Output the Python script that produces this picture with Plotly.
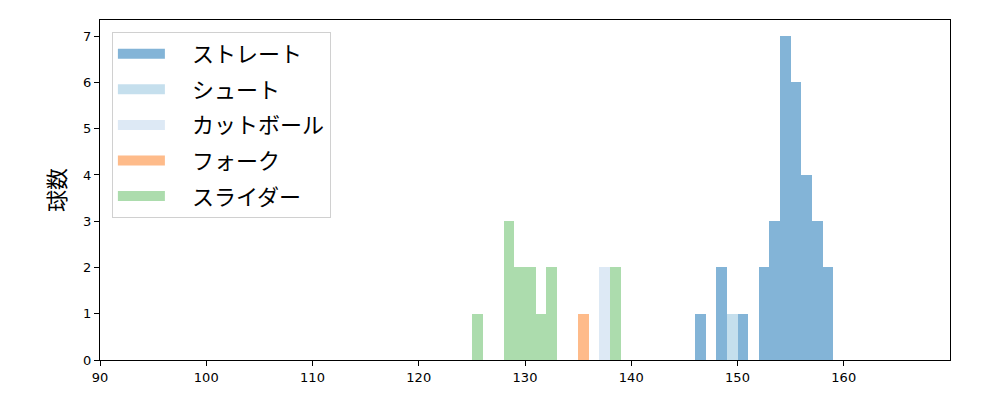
import plotly.graph_objects as go

# bin left edges (km/h) and counts per pitch type, bin width 1
straight_bins = [146, 148, 150, 152, 153, 154, 155, 156, 157, 158]
straight_counts = [1, 2, 1, 2, 3, 7, 6, 4, 3, 2]
shoot_bins = [149]
shoot_counts = [1]
cut_bins = [137]
cut_counts = [2]
fork_bins = [135]
fork_counts = [1]
slider_bins = [125, 128, 129, 130, 131, 132, 138]
slider_counts = [1, 3, 2, 2, 1, 2, 2]

names = ["ストレート", "シュート", "カットボール", "フォーク", "スライダー"]
colors = ["#3182bd", "#9ecae1", "#c6dbef", "#fd8d3c", "#74c476"]
series = [(straight_bins, straight_counts), (shoot_bins, shoot_counts),
          (cut_bins, cut_counts), (fork_bins, fork_counts),
          (slider_bins, slider_counts)]

x_ticks = [90, 100, 110, 120, 130, 140, 150, 160]
y_ticks = [0, 1, 2, 3, 4, 5, 6, 7]

fig = go.Figure()
for name, color, (bins, counts) in zip(names, colors, series):
    fig.add_trace(go.Bar(
        x=[b + 0.5 for b in bins], y=counts, width=1,
        marker=dict(color=color, opacity=0.6, line=dict(width=0)),
        name=name, showlegend=False, legendgroup=name,
    ))
    # legend proxy: thick line shows as a wide patch
    fig.add_trace(go.Scatter(
        x=[None], y=[None], mode="lines", name="\u2002\u2002" + name,
        legendgroup=name,
        line=dict(color=color, width=16), opacity=0.6, showlegend=True,
    ))

font = "DejaVu Sans, Noto Sans CJK JP, sans-serif"
fig.update_layout(
    width=1000, height=400,
    margin=dict(l=92, r=58, t=12, b=48),
    plot_bgcolor="white", paper_bgcolor="white",
    barmode="overlay", bargap=0,
    font=dict(family=font, color="black"),
    legend=dict(
        x=0.014, y=0.965, xanchor="left", yanchor="top",
        bgcolor="white", bordercolor="#d0d0d0", borderwidth=1,
        font=dict(size=22, family="Noto Sans CJK JP, sans-serif"),
        itemwidth=47, tracegroupgap=4,
    ),
    xaxis=dict(
        range=[90, 170], tickvals=x_ticks, ticks="outside", ticklen=5,
        tickwidth=1, tickcolor="black", showline=True, linecolor="black",
        linewidth=1, mirror=True, showgrid=False, zeroline=False,
        tickfont=dict(size=13),
    ),
    yaxis=dict(
        range=[0, 7.35], tickvals=y_ticks, ticks="outside", ticklen=5,
        tickwidth=1, tickcolor="black", showline=True, linecolor="black",
        linewidth=1, mirror=True, showgrid=False, zeroline=False,
        tickfont=dict(size=13),
        title=dict(text="球数", font=dict(size=22, family="Noto Sans CJK JP, sans-serif"), standoff=11),
    ),
)

fig.write_html("out.html")
